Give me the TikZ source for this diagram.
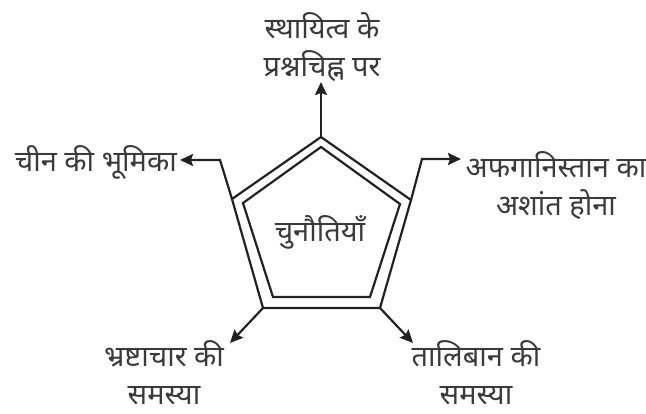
\documentclass[tikz,border=0pt]{standalone}
\usepackage{fontspec}
\newfontfamily\deva[Script=Devanagari]{Noto Sans}
\usetikzlibrary{arrows.meta}
\definecolor{txt}{HTML}{3A3A3A}
\definecolor{ln}{HTML}{222222}
\begin{document}
\begin{tikzpicture}[x=1pt,y=-1pt,
  lbl/.style={font=\deva\fontsize{29}{38}\selectfont, text=txt, inner sep=0pt, align=center},
  edge/.style={draw=ln, line width=2.2pt, line join=miter},
  conn/.style={draw=ln, line width=2.2pt, -{Stealth[length=13pt,width=12pt,inset=2pt]}}]
\useasboundingbox (0,0) rectangle (646,413);
% outer pentagon
\coordinate (oT) at (321,137);
\coordinate (oUL) at (232,199);
\coordinate (oUR) at (411,200);
\coordinate (oLL) at (263,308);
\coordinate (oLR) at (380,308);
% inner pentagon
\coordinate (iT) at (321,147);
\coordinate (iUL) at (243,203);
\coordinate (iUR) at (400,204);
\coordinate (iLL) at (273,297);
\coordinate (iLR) at (370,297);
\draw[edge] (oT) -- (oUR) -- (oLR) -- (oLL) -- (oUL) -- cycle;
\draw[edge] (iT) -- (iUR) -- (iLR) -- (iLL) -- (iUL) -- cycle;
\node[lbl] (ctr) at (320,232) {चुनौतियाँ};
% labels
\node[lbl] (top) at (322,47) {स्थायित्व के\\प्रश्नचिह्न पर};
\node[lbl, anchor=east] (left) at (177,162) {चीन की भूमिका};
\node[lbl] (right) at (556,186) {अफगानिस्तान का\\अशांत होना};
\node[lbl] (ll) at (164,373) {भ्रष्टाचार की\\समस्या};
\node[lbl] (lr) at (476,373) {तालिबान की\\समस्या};
% bends
\coordinate (bL) at (220,160);
\coordinate (bR) at (422,159);
\coordinate (tLL) at (230,343);
\coordinate (tLR) at (413,343);
\coordinate (tL) at (180,160);
\coordinate (tR) at (461,159);
\coordinate (tT) at (321,82);
% connectors
\draw[conn] (oT) -- (tT);
\draw[conn] (oUL) -- (bL) -- (tL);
\draw[conn] (oUR) -- (bR) -- (tR);
\draw[conn] (oLL) -- (tLL);
\draw[conn] (oLR) -- (tLR);
\end{tikzpicture}
\end{document}
